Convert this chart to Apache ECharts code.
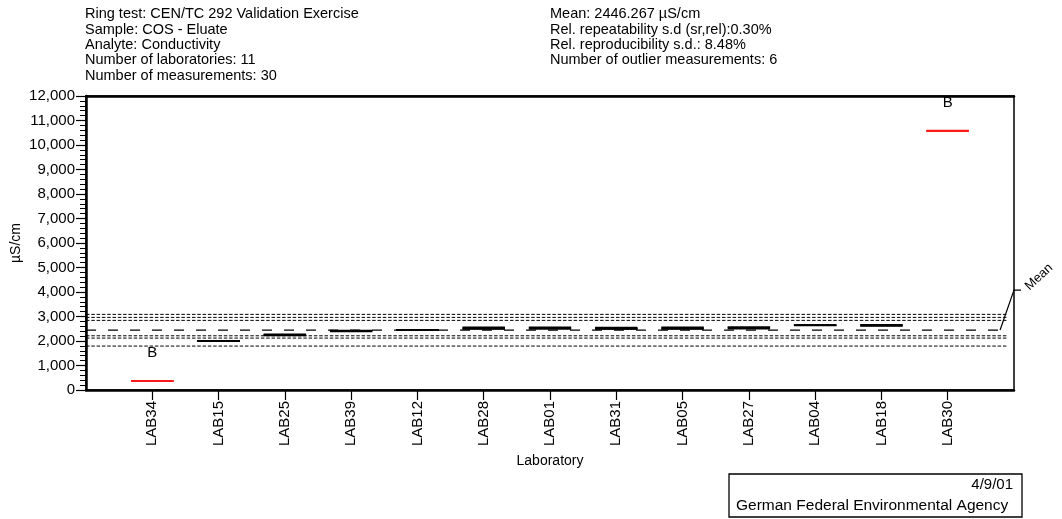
<!DOCTYPE html>
<html><head><meta charset="utf-8">
<script src="https://cdn.jsdelivr.net/npm/echarts@6/dist/echarts.min.js"></script>
<style>html,body{margin:0;padding:0;background:#fff}#c{width:1062px;height:519px}</style>
</head><body><div id="c"></div>
<script>
const labs = ['LAB34','LAB15','LAB25','LAB39','LAB12','LAB28','LAB01','LAB31','LAB05','LAB27','LAB04','LAB18','LAB30'];
const run1 = [360, 1995, 2230, 2390, 2445, 2560, 2555, 2550, 2555, 2570, 2640, 2620, 10570];
const run2 = [370, 2000, 2270, 2420, 2455, 2500, 2500, 2495, 2500, 2510, 2650, 2660, 10580];
const run3 = [365, 2005, 2250, null, 2450, 2505, null, 2500, 2505, null, 2645, 2640, 10590];
const outlierLabs = ['LAB34','LAB30'];
const meanValue = 2446.267;
const upperLimits = [3087, 2964, 2842];
const lowerLimits = [2213, 2119, 1793];
const headerLeft = ['Ring test: CEN/TC 292 Validation Exercise','Sample: COS - Eluate','Analyte: Conductivity','Number of laboratories: 11','Number of measurements: 30'];
const headerRight = ['Mean: 2446.267 µS/cm','Rel. repeatability s.d (sr,rel):0.30%','Rel. reproducibility s.d.: 8.48%','Number of outlier measurements: 6'];
const footerDate = '4/9/01';
const footerOrg = 'German Federal Environmental Agency';

const FONT = '"Liberation Sans", Arial, sans-serif';
const marks = [];
labs.forEach((lab, i) => {
  const o = outlierLabs.includes(lab) ? 1 : 0;
  [run1, run2, run3].forEach(r => { if (r[i] != null) marks.push([i, r[i], o]); });
});
const bLabels = labs.map((lab, i) => outlierLabs.includes(lab) ? [i, Math.max(run1[i], run2[i], run3[i] ?? -Infinity)] : null).filter(Boolean);
const limitData = upperLimits.concat(lowerLimits).map(v => [-1, v]);
const X_END = 12.89;

const chart = echarts.init(document.getElementById('c'));
chart.setOption({
  animation: false,
  backgroundColor: '#fff',
  textStyle: { fontFamily: FONT },
  title: [
    { text: headerLeft.join('\n'), left: 85, top: 6.5, padding: 0,
      textStyle: { fontSize: 14.5, fontWeight: 'normal', color: '#000', lineHeight: 15.4, fontFamily: FONT } },
    { text: headerRight.join('\n'), left: 550, top: 6.5, padding: 0,
      textStyle: { fontSize: 14.5, fontWeight: 'normal', color: '#000', lineHeight: 15.4, fontFamily: FONT } }
  ],
  grid: { left: 86, right: 48, top: 96, bottom: 129, show: true, borderColor: '#000', borderWidth: 1.5,
    containLabel: false, outerBoundsMode: 'none' },
  xAxis: [{
    type: 'value', min: -1, max: 13, interval: 1, position: 'bottom',
    name: 'Laboratory', nameLocation: 'middle', nameGap: 64, nameMoveOverlap: false,
    nameTextStyle: { fontSize: 14, color: '#000', fontFamily: FONT },
    axisLine: { show: true, onZero: false, lineStyle: { color: '#000', width: 2.5 } },
    axisTick: { show: true, length: 10, customValues: labs.map((_, i) => i), lineStyle: { color: '#000', width: 1.2 } },
    axisLabel: { show: true, rotate: 90, margin: 11, fontSize: 15, color: '#000', fontFamily: FONT,
      customValues: labs.map((_, i) => i), formatter: v => labs[v] || '' },
    splitLine: { show: false }
  }, {
    type: 'value', min: -1, max: 13, position: 'top',
    axisLine: { show: true, onZero: false, lineStyle: { color: '#000', width: 2.5 } },
    axisTick: { show: false }, axisLabel: { show: false }, splitLine: { show: false }
  }],
  yAxis: {
    type: 'value', min: 0, max: 12000, interval: 1000,
    name: 'µS/cm', nameLocation: 'middle', nameGap: 63, nameMoveOverlap: false,
    nameTextStyle: { fontSize: 14, color: '#000', fontFamily: FONT },
    axisLine: { show: true, onZero: false, lineStyle: { color: '#000', width: 2.5 } },
    axisTick: { show: true, length: 10, lineStyle: { color: '#000', width: 1.2 } },
    minorTick: { show: true, splitNumber: 5, length: 6, lineStyle: { color: '#000', width: 1 } },
    axisLabel: { margin: 11, fontSize: 15, color: '#000', fontFamily: FONT,
      formatter: v => String(v).replace(/\B(?=(\d{3})+(?!\d))/g, ',') },
    splitLine: { show: false }
  },
  series: [
    {
      type: 'custom', name: 'limits', data: limitData, encode: { x: 0, y: 1 }, z: 2,
      renderItem: (params, api) => {
        const a = api.coord([-1, api.value(1)]), b = api.coord([X_END, api.value(1)]);
        return { type: 'line', shape: { x1: a[0], y1: a[1], x2: b[0], y2: b[1] },
          style: { stroke: '#000', lineWidth: 1, lineDash: [3.5, 1.8] } };
      }
    },
    {
      type: 'custom', name: 'mean', data: [[12.79, meanValue]], encode: { x: 0, y: 1 }, z: 2, clip: false,
      renderItem: (params, api) => {
        const a = api.coord([-1, meanValue]), b = api.coord([12.94, meanValue]);
        const s = api.coord([12.79, meanValue]), e = api.coord([13, 4080]);
        return { type: 'group', children: [
          { type: 'line', shape: { x1: a[0], y1: a[1], x2: b[0], y2: b[1] },
            style: { stroke: '#000', lineWidth: 1.3, lineDash: [10, 12] } },
          { type: 'polyline', shape: { points: [s, e, [e[0] + 7, e[1]]] },
            style: { stroke: '#000', lineWidth: 1.2, fill: null } },
          { type: 'text', x: e[0] + 25, y: e[1] - 13, rotation: 0.75,
            style: { text: 'Mean', fontSize: 13, fontFamily: FONT, fill: '#000', align: 'center', verticalAlign: 'middle' } }
        ] };
      }
    },
    {
      type: 'custom', name: 'measurements', data: marks, encode: { x: 0, y: 1 }, z: 3,
      renderItem: (params, api) => {
        const i = api.value(0), v = api.value(1), o = api.value(2);
        const a = api.coord([i - 0.32, v]), b = api.coord([i + 0.32, v]);
        return { type: 'line', shape: { x1: a[0], y1: a[1], x2: b[0], y2: b[1] },
          style: { stroke: o ? '#ff1a1a' : '#000', lineWidth: 1.8 } };
      }
    },
    {
      type: 'custom', name: 'outlierFlag', data: bLabels, encode: { x: 0, y: 1 }, z: 3,
      renderItem: (params, api) => {
        const p = api.coord([api.value(0), api.value(1)]);
        return { type: 'text', x: p[0], y: p[1] - 28,
          style: { text: 'B', fontSize: 15, fontFamily: FONT, fill: '#000', align: 'center', verticalAlign: 'middle' } };
      }
    }
  ],
  graphic: [
    { type: 'rect', shape: { x: 729, y: 474, width: 293, height: 43 },
      style: { fill: '#fff', stroke: '#000', lineWidth: 1.3 } },
    { type: 'text', x: 1013, y: 485, style: { text: footerDate, fontSize: 15, fontFamily: FONT, fill: '#000', align: 'right', verticalAlign: 'middle' } },
    { type: 'text', x: 736, y: 506, style: { text: footerOrg, fontSize: 15.5, fontFamily: FONT, fill: '#000', align: 'left', verticalAlign: 'middle' } }
  ]
});
</script></body></html>
